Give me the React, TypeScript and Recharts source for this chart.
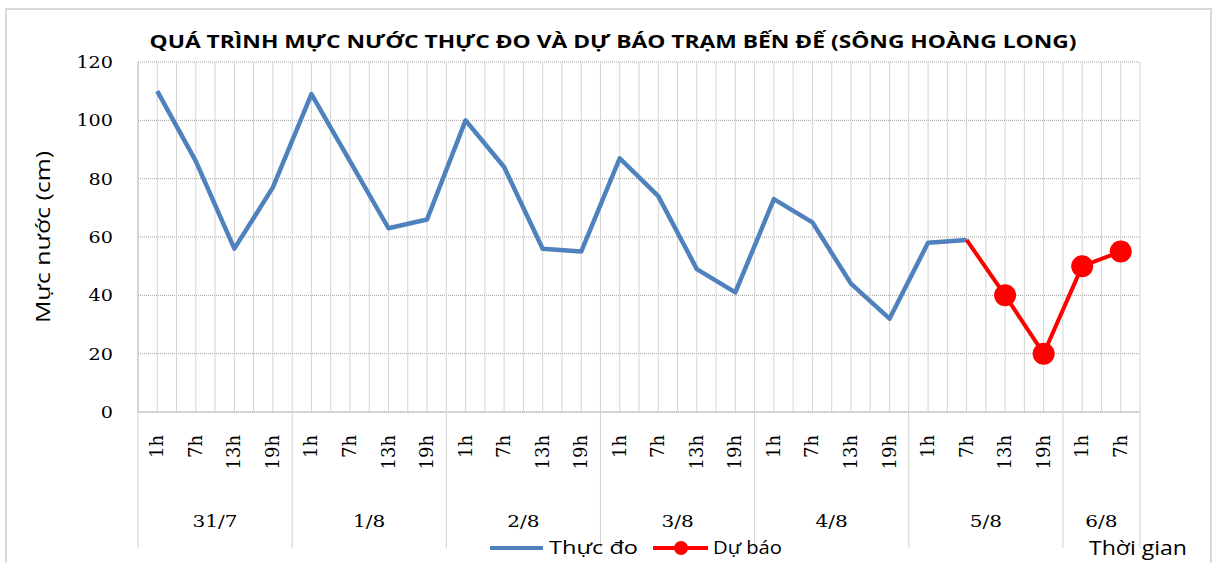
import React from 'react';
import { LineChart, Line, XAxis, YAxis, CartesianGrid } from 'recharts';

const hourLabels = ['1h','7h','13h','19h','1h','7h','13h','19h','1h','7h','13h','19h','1h','7h','13h','19h','1h','7h','13h','19h','1h','7h','13h','19h','1h','7h'];
const dayLabels = ['31/7','31/7','31/7','31/7','1/8','1/8','1/8','1/8','2/8','2/8','2/8','2/8','3/8','3/8','3/8','3/8','4/8','4/8','4/8','4/8','5/8','5/8','5/8','5/8','6/8','6/8'];
const observed = [110,86,56,77,109,86,63,66,100,84,56,55,87,74,49,41,73,65,44,32,58,59,null,null,null,null];
const forecast = [null,null,null,null,null,null,null,null,null,null,null,null,null,null,null,null,null,null,null,null,null,59,40,20,50,55];
const yTicks = [0,20,40,60,80,100,120];

const TITLE = 'QUÁ TRÌNH MỰC NƯỚC THỰC ĐO VÀ DỰ BÁO TRẠM BẾN ĐẾ (SÔNG HOÀNG LONG)';
const Y_LABEL = 'Mực nước (cm)';
const X_LABEL = 'Thời gian';
const SERIES_OBS = 'Thực đo';
const SERIES_FC = 'Dự báo';

const data = hourLabels.map((h, i) => ({ key: `${dayLabels[i]} ${h}`, hour: h, day: dayLabels[i], obs: observed[i], fc: forecast[i] }));

const W = 1215;
const H = 563;
const M_LEFT = 138;
const M_RIGHT = 75;
const M_TOP = 62;
const X_AXIS_H = 151;
const PLOT_W = W - M_LEFT - M_RIGHT;
const BAND = PLOT_W / hourLabels.length;
const SERIF = '"DejaVu Serif", serif';
const SANS = '"Open Sans", "Noto Sans", sans-serif';

const HourTick = (props: any) => {
  const { x, y, index } = props;
  const i = index;
  const day = dayLabels[i];
  const isFirst = i === 0 || dayLabels[i - 1] !== day;
  const isLast = i === dayLabels.length - 1;
  const count = dayLabels.filter((d) => d === day).length;
  return (
    <g>
      <text
        x={0}
        y={0}
        transform={`translate(${x + 6},${y + 23}) rotate(-90)`}
        textAnchor="end"
        fontFamily={SERIF}
        fontSize={18}
        fill="#000"
      >
        {hourLabels[i]}
      </text>
      {isFirst && (
        <line x1={x - BAND / 2} x2={x - BAND / 2} y1={y} y2={y + 136} stroke="#d0d0d0" strokeWidth={1} />
      )}
      {isFirst && (
        <text
          x={0}
          y={0}
          transform={`translate(${x + ((count - 1) / 2) * BAND},${y + 115}) scale(1.18,1)`}
          textAnchor="middle"
          fontFamily={SERIF}
          fontSize={17}
          fill="#000"
        >
          {day}
        </text>
      )}
      {isLast && (
        <line x1={x + BAND / 2} x2={x + BAND / 2} y1={y} y2={y + 136} stroke="#d0d0d0" strokeWidth={1} />
      )}
    </g>
  );
};

const ValueTick = (props: any) => {
  const { x, y, payload } = props;
  return (
    <text
      x={0}
      y={0}
      transform={`translate(${x},${y + 6}) scale(1.2,1)`}
      textAnchor="end"
      fontFamily={SERIF}
      fontSize={16}
      fill="#000"
    >
      {payload.value}
    </text>
  );
};

const FcDot = (props: any) => {
  const { cx, cy, index, value } = props;
  if (value == null || index === 21 || cx == null || cy == null) return <g key={`d${index}`} />;
  return <circle key={`d${index}`} cx={cx} cy={cy} r={11} fill="#ff0000" stroke="none" />;
};

const verticalGen = ({ offset }: any) => {
  const coords: number[] = [];
  const n = hourLabels.length * 2;
  const step = offset.width / n;
  for (let k = 0; k <= n; k++) coords.push(offset.left + k * step);
  return coords;
};

export default function App() {
  return (
    <div style={{ position: 'absolute', left: 0, top: 0, width: W, height: H, background: '#fff', overflow: 'hidden' }}>
      <div style={{ position: 'absolute', left: 5, top: 8, width: 1203, height: 570, border: '2px solid #d9d9d9' }} />
      <LineChart width={W} height={H} data={data} margin={{ top: M_TOP, right: M_RIGHT, bottom: 0, left: 0 }}>
        <CartesianGrid vertical={false} stroke="#a0a0a0" strokeDasharray="1 1" />
        <CartesianGrid horizontal={false} stroke="#d4d4d4" verticalCoordinatesGenerator={verticalGen} />
        <XAxis
          dataKey="key"
          height={X_AXIS_H}
          interval={0}
          padding={{ left: BAND / 2, right: BAND / 2 }}
          tickLine={false}
          tickSize={0}
          tickMargin={0}
          axisLine={{ stroke: '#c0c0c0' }}
          tick={<HourTick />}
        />
        <YAxis
          width={M_LEFT}
          domain={[0, 120]}
          ticks={yTicks}
          interval={0}
          tickLine={false}
          tickSize={0}
          tickMargin={25}
          axisLine={{ stroke: '#c0c0c0' }}
          tick={<ValueTick />}
        />
        <Line
          dataKey="obs"
          name={SERIES_OBS}
          stroke="#4f81bd"
          strokeWidth={4.5}
          dot={false}
          activeDot={false}
          connectNulls={false}
          isAnimationActive={false}
          strokeLinejoin="round"
        />
        <Line
          dataKey="fc"
          name={SERIES_FC}
          stroke="#ff0000"
          strokeWidth={4}
          dot={<FcDot />}
          activeDot={false}
          connectNulls={false}
          isAnimationActive={false}
          strokeLinejoin="round"
        />
      </LineChart>
      <svg width={W} height={H} style={{ position: 'absolute', left: 0, top: 0, pointerEvents: 'none' }}>
        <text x={613} y={48} textAnchor="middle" fontFamily={SANS} fontWeight="bold" fontSize={18} fill="#000" textLength={927} lengthAdjust="spacingAndGlyphs">
          {TITLE}
        </text>
        <text
          x={0}
          y={0}
          transform="translate(50,237) rotate(-90)"
          textAnchor="middle"
          fontFamily={SANS}
          fontSize={20}
          fill="#000"
          textLength={172}
          lengthAdjust="spacingAndGlyphs"
        >
          {Y_LABEL}
        </text>
        <text x={1089} y={555} fontFamily={SANS} fontSize={20} fill="#000" textLength={98} lengthAdjust="spacingAndGlyphs">
          {X_LABEL}
        </text>
        <g transform="translate(485,534)">
          <line x1={5} x2={58} y1={14} y2={14} stroke="#4f81bd" strokeWidth={4} />
          <text x={64} y={20} fontFamily={SANS} fontSize={18} fill="#000" textLength={89} lengthAdjust="spacingAndGlyphs">{SERIES_OBS}</text>
          <line x1={168} x2={223} y1={14} y2={14} stroke="#ff0000" strokeWidth={4} />
          <circle cx={196} cy={14} r={7} fill="#ff0000" />
          <text x={228} y={20} fontFamily={SANS} fontSize={18} fill="#000" textLength={69} lengthAdjust="spacingAndGlyphs">{SERIES_FC}</text>
        </g>
      </svg>
    </div>
  );
}
